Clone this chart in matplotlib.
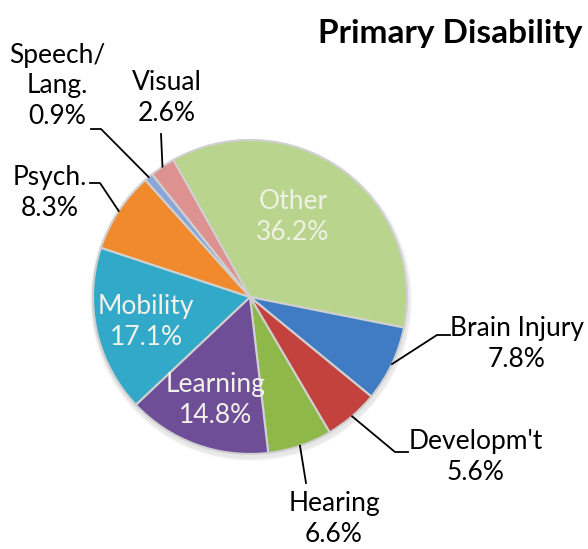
import matplotlib
matplotlib.use('Agg')
import matplotlib.pyplot as plt
from matplotlib.patches import Circle
import numpy as np

plt.rcParams['font.family'] = ['Lato', 'DejaVu Sans']

# Data
labels = ['Other', 'Brain Injury', "Developm't", 'Hearing', 'Learning',
          'Mobility', 'Psych.', 'Speech/\nLang.', 'Visual']
values = [36.2, 7.8, 5.6, 6.6, 14.8, 17.1, 8.3, 0.9, 2.6]
colors = ['#b9d48c', '#3f7cc4', '#c4423e', '#8fb84a', '#6e4e97',
          '#33a9c9', '#f08a2c', '#8aa6d8', '#dd9290']
explode = [0.03, 0, 0, 0, 0, 0, 0, 0, 0]

# Layout (pixel space, y measured from top of the image)
W, H = 588, 549
cx, cy, R = 250, 297, 157
inside = {'Other': (293, 217), 'Mobility': (146, 322), 'Learning': (216, 400)}
inside_color = {'Other': '#eef2e4', 'Mobility': '#f2f2e8', 'Learning': '#f2f2e8'}
# label centre, elbow point, line end point
outside = {
    'Brain Injury': ((517, 344), (437, 335), (450, 335)),
    "Developm't": ((476, 457), (395, 452), (408, 452)),
    'Hearing': ((334, 519), (306, 483), (306, 483)),
    'Psych.': ((50, 193), (100, 183), (90, 183)),
    'Speech/\nLang.': ((57, 86), (101, 129), (91, 129)),
    'Visual': ((167, 98), (161, 134), (161, 134)),
}

fig = plt.figure(figsize=(W / 100, H / 100), dpi=100)
ax = fig.add_axes([0, 0, 1, 1])

# soft shadow under the pie
for k, a in [(4, 0.05), (3, 0.06), (2, 0.07)]:
    ax.add_patch(Circle((cx + 1, H - cy - 3), R + k, color='grey', alpha=a, lw=0))

start = 119.2
wedges, _ = ax.pie(values, colors=colors, explode=explode, startangle=start,
                   counterclock=False, radius=R, center=(cx, H - cy),
                   wedgeprops=dict(edgecolor='#d0d0d0', linewidth=1.5))
ax.set_xlim(0, W)
ax.set_ylim(0, H)
ax.set_aspect('equal')
ax.axis('off')

total = sum(values)
angle = start
for lab, val, w in zip(labels, values, wedges):
    span = val / total * 360
    mid = np.deg2rad(angle - span / 2)
    angle -= span
    txt = f'{lab}\n{val:.1f}%'
    if lab in inside:
        x, y = inside[lab]
        ax.text(x, H - y, txt, ha='center', va='center', fontsize=19,
                color=inside_color[lab], linespacing=1.3)
    else:
        (lx, ly), (ex, ey), (tx, ty) = outside[lab]
        sx, sy = cx + R * np.cos(mid), (H - cy) + R * np.sin(mid)
        ax.plot([sx, ex, tx], [sy, H - ey, H - ty], color='black', lw=1.3)
        ax.text(lx, H - ly, txt, ha='center', va='center', fontsize=19,
                color='black', linespacing=1.3)

ax.text(583, H - 33, 'Primary Disability', ha='right', va='center',
        fontsize=24, fontweight='bold')

fig.savefig('out.png', dpi=100)
